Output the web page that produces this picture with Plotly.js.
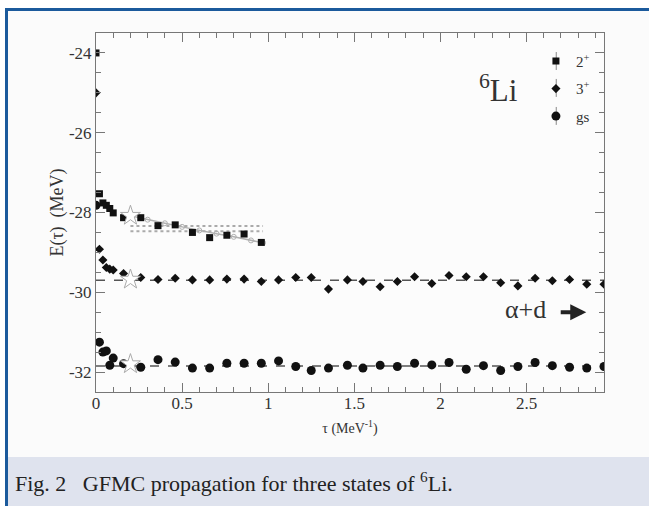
<!DOCTYPE html>
<html>
<head>
<meta charset="utf-8">
<script src="https://cdn.plot.ly/plotly-3.0.1.min.js"></script>
<style>
  html, body { margin:0; padding:0; background:#ffffff; }
  #frame { position:absolute; left:5px; top:8px; width:644px; height:498px; box-sizing:border-box;
           border-top:3px solid #1b5a9c; border-left:3px solid #1b5a9c; background:#fbfbfb; }
  #band { position:absolute; left:8px; top:457px; width:641px; height:49px; background:#dfe3ee; }
  #chart { position:absolute; left:0; top:0; width:649px; height:506px; }
</style>
</head>
<body>
<div id="frame"></div>
<div id="band"></div>
<div id="chart"></div>
<script>
// ---- data ----
const tau2 = [0, 0.02, 0.04, 0.06, 0.08, 0.10, 0.16, 0.26, 0.36, 0.46, 0.56, 0.66, 0.76, 0.86, 0.96];
const e2   = [-24.0, -27.53, -27.76, -27.82, -27.90, -28.01, -28.13, -28.13, -28.33, -28.31, -28.50, -28.63, -28.57, -28.54, -28.75];

const tauL = [0, 0.02, 0.04, 0.06, 0.08, 0.10, 0.16, 0.26, 0.36, 0.46, 0.56, 0.66, 0.76, 0.86, 0.96,
              1.06, 1.16, 1.25, 1.35, 1.46, 1.55, 1.65, 1.75, 1.85, 1.95, 2.05, 2.15, 2.25, 2.35, 2.45,
              2.55, 2.65, 2.75, 2.85, 2.95];
const e3   = [-25.0, -28.92, -29.19, -29.38, -29.42, -29.44, -29.53, -29.63, -29.68, -29.65, -29.69, -29.69, -29.67, -29.67, -29.73,
              -29.69, -29.63, -29.63, -29.92, -29.69, -29.73, -29.86, -29.73, -29.61, -29.78, -29.58, -29.61, -29.61, -29.76, -29.84,
              -29.65, -29.71, -29.68, -29.80, -29.80];
const eGs  = [-27.82, -31.25, -31.50, -31.47, -31.83, -31.65, -31.79, -31.88, -31.69, -31.75, -31.90, -31.90, -31.78, -31.78, -31.78,
              -31.72, -31.86, -31.96, -31.90, -31.83, -31.90, -31.83, -31.86, -31.78, -31.82, -31.76, -31.93, -31.84, -31.96, -31.86,
              -31.76, -31.84, -31.88, -31.90, -31.86];

// averages (flat lines) and 2+ band / trend
const fitX   = [0, 2.95];
const fit3   = [-29.70, -29.70];
const fitGs  = [-31.85, -31.85];
const bandX  = [0.20, 0.97];
const bandHi = [-28.34, -28.34];
const bandLo = [-28.47, -28.47];
const trendX = [0.20, 0.30, 0.40, 0.50, 0.60, 0.70, 0.80, 0.90, 0.97];
const trendY = [-28.08, -28.18, -28.27, -28.36, -28.45, -28.53, -28.61, -28.70, -28.76];
const starX  = [0.20, 0.20, 0.20];
const starY  = [-28.08, -29.68, -31.80];

const names  = ["2<sup>+</sup>", "3<sup>+</sup>", "gs"];
const yTicks = [-24, -26, -28, -30, -32];
const yText  = ["-24", "-26", "-28", "-30", "-32"];
const xTicks = [0, 0.5, 1, 1.5, 2, 2.5];
const xText  = ["0", "0.5", "1", "1.5", "2", "2.5"];

const SERIF = "'Liberation Serif', 'Times New Roman', serif";
const AX = "#777777";
const TXT = "#333333";

const traces = [
  {x: fitX, y: fit3, mode: "lines", line: {color: "#555", width: 1.5, dash: "dash"}, showlegend: false, hoverinfo: "skip"},
  {x: fitX, y: fitGs, mode: "lines", line: {color: "#555", width: 1.5, dash: "dash"}, showlegend: false, hoverinfo: "skip"},
  {x: bandX, y: bandHi, mode: "lines", line: {color: "#aaa", width: 2, dash: "dot"}, showlegend: false, hoverinfo: "skip"},
  {x: bandX, y: bandLo, mode: "lines", line: {color: "#aaa", width: 2, dash: "dot"}, showlegend: false, hoverinfo: "skip"},
  {x: trendX, y: trendY, mode: "lines+markers", line: {color: "#b0b0b0", width: 1.5},
   marker: {symbol: "circle-open", size: 5, color: "#b0b0b0"}, showlegend: false, hoverinfo: "skip"},
  {x: tau2, y: e2, mode: "markers", name: names[0], legendgroup: "a",
   marker: {symbol: "square", size: 7, color: "#111"}},
  {x: tauL, y: e3, mode: "markers", name: names[1], legendgroup: "b",
   marker: {symbol: "diamond", size: 7, color: "#111"}},
  {x: tauL, y: eGs, mode: "markers", name: names[2], legendgroup: "c",
   marker: {symbol: "circle", size: 9, color: "#111"}},
  {x: starX, y: starY, mode: "markers", showlegend: false, hoverinfo: "skip",
   marker: {symbol: "star", size: 15, color: "#ffffff", line: {color: "#aaaaaa", width: 1}}}
];

const axisCommon = {
  showline: true, linecolor: AX, linewidth: 1, mirror: "ticks",
  ticks: "inside", ticklen: 9, tickcolor: AX, tickwidth: 1,
  showgrid: false, zeroline: false,
  tickfont: {family: SERIF, size: 17, color: TXT}
};

const layout = {
  width: 649, height: 506,
  margin: {l: 96, r: 45, t: 33, b: 114},
  paper_bgcolor: "rgba(0,0,0,0)",
  plot_bgcolor: "#fcfcfc",
  font: {family: SERIF, color: TXT},
  xaxis: Object.assign({}, axisCommon, {
    range: [0, 2.95], tickmode: "array", tickvals: xTicks, ticktext: xText,
    ticklabelstandoff: -4,
    minor: {dtick: 0.1, tick0: 0, ticks: "inside", ticklen: 5, tickcolor: AX, showgrid: false},
    title: {text: "τ (MeV<sup>-1</sup>)", font: {family: SERIF, size: 14, color: TXT}, standoff: 10}
  }),
  yaxis: Object.assign({}, axisCommon, {
    range: [-32.5, -23.5], tickmode: "array", tickvals: yTicks, ticktext: yText,
    minor: {dtick: 0.5, tick0: -24, ticks: "inside", ticklen: 5, tickcolor: AX, showgrid: false},
    title: {text: "\u00a0\u00a0\u00a0E(τ)\u00a0\u00a0(MeV)", font: {family: SERIF, size: 18, color: TXT}, standoff: 0}
  }),
  showlegend: true,
  legend: {x: 0.866, y: 0.967, xanchor: "left", yanchor: "top", bgcolor: "rgba(0,0,0,0)",
           traceorder: "grouped", tracegroupgap: 5,
           font: {family: SERIF, size: 15, color: TXT}},
  annotations: [
    {xref: "paper", yref: "paper", x: 0.834, y: 0.906, text: "<sup>6</sup>Li", showarrow: false,
     font: {family: SERIF, size: 31, color: TXT}},
    {xref: "paper", yref: "paper", x: 0.89, y: 0.184, text: "α+d", showarrow: false,
     font: {family: SERIF, size: 26, color: TXT}},
    {xref: "paper", yref: "paper", x: 0.965, y: 0.222, ax: -27, ay: 0, text: "", showarrow: true,
     arrowhead: 2, arrowsize: 0.8, arrowwidth: 4, arrowcolor: "#222"},
    {xref: "paper", yref: "paper", x: -0.1634, y: -0.2507, xanchor: "left", yanchor: "middle",
     text: "Fig. 2\u00a0\u00a0\u00a0GFMC propagation for three states of <sup>6</sup>Li.", showarrow: false,
     font: {family: SERIF, size: 22, color: "#222"}}
  ],
  shapes: [
    {type: "line", xref: "paper", yref: "paper", x0: 0.906, x1: 0.906, y0: 0.897, y1: 0.947, line: {color: "#888", width: 1}},
    {type: "line", xref: "paper", yref: "paper", x0: 0.906, x1: 0.906, y0: 0.822, y1: 0.872, line: {color: "#888", width: 1}},
    {type: "line", xref: "paper", yref: "paper", x0: 0.906, x1: 0.906, y0: 0.744, y1: 0.794, line: {color: "#888", width: 1}}
  ]
};

Plotly.newPlot("chart", traces, layout, {staticPlot: true, displayModeBar: false});
</script>
</body>
</html>
